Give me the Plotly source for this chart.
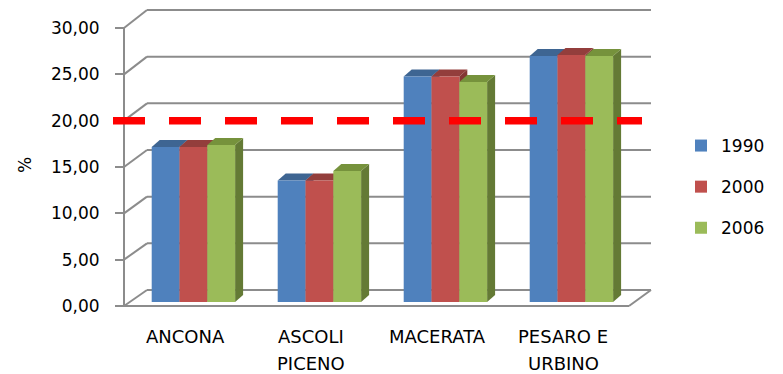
import plotly.graph_objects as go

# ---------------- data ----------------
categories = ["ANCONA", "ASCOLI PICENO", "MACERATA", "PESARO E URBINO"]
label_lines = [["ANCONA"], ["ASCOLI", "PICENO"], ["MACERATA"], ["PESARO E", "URBINO"]]
series_names = ["1990", "2000", "2006"]
values_1990 = [16.7, 13.1, 24.3, 26.5]
values_2000 = [16.7, 13.1, 24.3, 26.6]
values_2006 = [16.9, 14.1, 23.7, 26.5]
y_tick_values = [0, 5, 10, 15, 20, 25, 30]
y_tick_labels = ["0,00", "5,00", "10,00", "15,00", "20,00", "25,00", "30,00"]
threshold = 20
y_title = "%"

series_values = [values_1990, values_2000, values_2006]
front_colors = ["#4F81BD", "#C0504D", "#9BBB59"]
top_colors = ["#3E6592", "#933E3C", "#76923C"]
side_colors = ["#365884", "#843633", "#647A35"]

# ---------------- geometry (pixels) ----------------
W, H = 783, 374
PL, PR, PT, PB = 113, 662, 6, 312          # plot area
FRONT_P0, FRONT_S = 306.0, 278.0 / 30     # front axis plane
BACK_P0, BACK_S = 290.0, 280.0 / 30       # back wall plane
BAR_P0, BAR_S = 302.0, 9.283              # bar front plane
AXIS_X, WALL_X, WALL_R, FLOOR_R = 124, 147, 651, 629
CAT0_PX, CAT_PX = 193.4, 126.0
GROUP_FRAC = 83.4 / 126.0
DEPTH_DX_PX, DEPTH_DY_PX = 8.0, 7.0


def yrange(p0, s):
    return [(p0 - PB) / s, (p0 - PT) / s]


def px_x(px):
    return (px - PL) / (PR - PL)


def px_y(py):
    return (PB - py) / (PB - PT)


xrange_ = [(PL - CAT0_PX) / CAT_PX, (PR - CAT0_PX) / CAT_PX]
bar_w = GROUP_FRAC / 3
dx = DEPTH_DX_PX / CAT_PX
dy = DEPTH_DY_PX / BAR_S

fig = go.Figure()

# side and top faces (drawn behind front faces)
for i in range(len(categories)):
    for k, vals in enumerate(series_values):
        v = vals[i]
        left = i - GROUP_FRAC / 2 + k * bar_w
        right = left + bar_w
        fig.add_trace(go.Scatter(
            x=[right, right, right + dx, right + dx, right],
            y=[0, v, v + dy, dy, 0],
            fill="toself", fillcolor=side_colors[k], mode="lines",
            line=dict(width=0, color=side_colors[k]),
            showlegend=False, hoverinfo="skip", yaxis="y3"))
        fig.add_trace(go.Scatter(
            x=[left, right, right + dx, left + dx, left],
            y=[v, v, v + dy, v + dy, v],
            fill="toself", fillcolor=top_colors[k], mode="lines",
            line=dict(width=0, color=top_colors[k]),
            showlegend=False, hoverinfo="skip", yaxis="y3"))

# front faces
for k, (name, vals) in enumerate(zip(series_names, series_values)):
    fig.add_trace(go.Bar(
        x=list(range(len(categories))), y=vals, name=name,
        marker=dict(color=front_colors[k], line=dict(width=0)),
        yaxis="y4", legendgroup=name, hovertext=categories))

shapes = []
grid_color = "#8C8C8C"
# back wall gridlines + left wall diagonals
for v in y_tick_values:
    shapes.append(dict(type="line", xref="paper", yref="y2",
                       x0=px_x(WALL_X), x1=px_x(WALL_R), y0=v, y1=v,
                       line=dict(color=grid_color, width=2), layer="below"))
    shapes.append(dict(type="line", xref="paper", yref="paper",
                       x0=px_x(AXIS_X), y0=px_y(FRONT_P0 - FRONT_S * v),
                       x1=px_x(WALL_X), y1=px_y(BACK_P0 - BACK_S * v),
                       line=dict(color=grid_color, width=2), layer="below"))
# floor
shapes.append(dict(type="line", xref="paper", yref="y",
                   x0=px_x(AXIS_X - 2), x1=px_x(FLOOR_R), y0=0, y1=0,
                   line=dict(color=grid_color, width=2), layer="below"))
shapes.append(dict(type="line", xref="paper", yref="paper",
                   x0=px_x(FLOOR_R), y0=px_y(FRONT_P0),
                   x1=px_x(WALL_R), y1=px_y(BACK_P0),
                   line=dict(color=grid_color, width=2), layer="below"))
# front vertical axis line
shapes.append(dict(type="line", xref="paper", yref="y",
                   x0=px_x(AXIS_X), x1=px_x(AXIS_X),
                   y0=y_tick_values[0], y1=y_tick_values[-1],
                   line=dict(color=grid_color, width=2), layer="below"))
# threshold line
shapes.append(dict(type="line", xref="paper", yref="y",
                   x0=0, x1=px_x(642), y0=threshold, y1=threshold,
                   line=dict(color="#FF0000", width=7.5, dash="32px,24px"),
                   layer="above"))

annotations = []
for i, lines in enumerate(label_lines):
    for j, t in enumerate(lines):
        annotations.append(dict(
            text=t, xref="x", x=i, xshift=-8, yref="paper",
            y=px_y(336 + 27 * j), yanchor="middle", xanchor="center",
            showarrow=False, font=dict(family="DejaVu Sans", size=18, color="black")))
annotations.append(dict(
    text=y_title, xref="paper", x=px_x(25), yref="paper", y=px_y(165),
    textangle=-90, showarrow=False, xanchor="center", yanchor="middle",
    font=dict(family="DejaVu Sans", size=17, color="black")))

font = dict(family="DejaVu Sans", size=17, color="black")
fig.update_layout(
    width=W, height=H,
    margin=dict(l=PL, r=W - PR, t=PT, b=H - PB, pad=0),
    paper_bgcolor="white", plot_bgcolor="white",
    barmode="group", bargap=1 - GROUP_FRAC, bargroupgap=0,
    font=font,
    showlegend=True,
    legend=dict(x=px_x(681), xanchor="left", y=px_y(128), yanchor="top",
                font=font, tracegroupgap=16, bgcolor="rgba(0,0,0,0)"),
    xaxis=dict(range=xrange_, visible=False, fixedrange=True),
    yaxis=dict(range=yrange(FRONT_P0, FRONT_S), anchor="free",
               position=px_x(AXIS_X), showline=False, showgrid=False,
               zeroline=False, ticks="outside", ticklen=9, tickwidth=2,
               tickcolor=grid_color, tickvals=y_tick_values,
               ticktext=y_tick_labels, tickfont=font, ticklabelstandoff=12),
    yaxis2=dict(range=yrange(BACK_P0, BACK_S), overlaying="y", anchor="x",
                visible=False),
    yaxis3=dict(range=yrange(BAR_P0, BAR_S), overlaying="y", anchor="x",
                visible=False),
    yaxis4=dict(range=yrange(BAR_P0, BAR_S), overlaying="y", anchor="x",
                visible=False),
    shapes=shapes,
    annotations=annotations,
)

fig.write_html("out.html")
